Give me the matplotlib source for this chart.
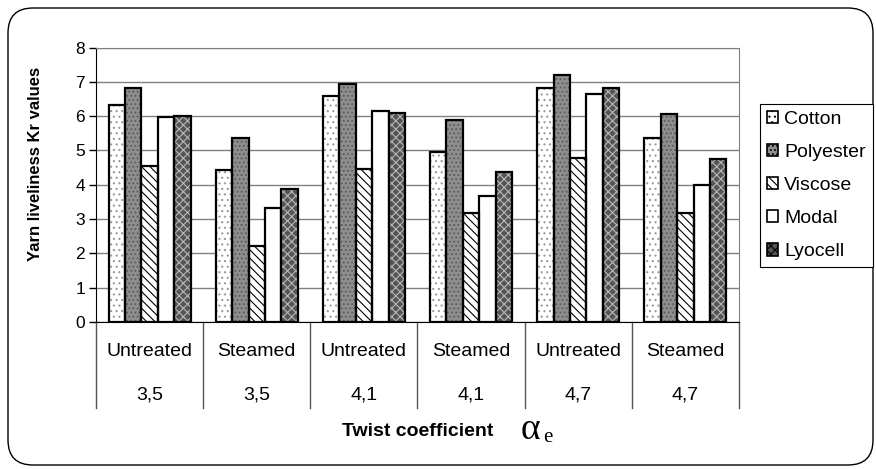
import matplotlib.pyplot as plt
import matplotlib.patches as mpatches
import matplotlib.transforms as mtransforms
import numpy as np

plt.rcParams['font.family'] = ['Liberation Sans', 'DejaVu Sans']
plt.rcParams['hatch.linewidth'] = 0.8

treatments = ['Untreated', 'Steamed', 'Untreated', 'Steamed', 'Untreated', 'Steamed']
twist = ['3,5', '3,5', '4,1', '4,1', '4,7', '4,7']

series = ['Cotton', 'Polyester', 'Viscose', 'Modal', 'Lyocell']
cotton = [6.32, 4.43, 6.59, 4.94, 6.82, 5.37]
polyester = [6.82, 5.36, 6.95, 5.88, 7.21, 6.07]
viscose = [4.55, 2.22, 4.45, 3.19, 4.79, 3.17]
modal = [5.96, 3.33, 6.14, 3.67, 6.65, 3.99]
lyocell = [6.01, 3.89, 6.09, 4.37, 6.82, 4.75]
values = [cotton, polyester, viscose, modal, lyocell]

# fill, hatch, hatch colour for each series
styles = [
    ('white', '...', '#9a9a9a'),
    ('#8e8e8e', '....', '#5a5a5a'),
    ('white', '\\\\\\\\', 'black'),
    ('white', '', 'black'),
    ('#555555', 'xxxx', '#b8b8b8'),
]

fig = plt.figure(figsize=(8.76, 4.69), dpi=100)
ax = fig.add_axes([96/876, (469-322)/469, 643/876, 274.5/469])

x = np.arange(len(treatments))
w = 0.153
for i, (vals, (fc, hatch, hc)) in enumerate(zip(values, styles)):
    pos = x + (i - 2) * w
    ax.bar(pos, vals, w, color=fc, hatch=hatch, edgecolor=hc, linewidth=0, zorder=3)
    ax.bar(pos, vals, w, color='none', edgecolor='black', linewidth=1.6, zorder=4)

ax.set_xlim(-0.5, 5.5)
ax.set_ylim(0, 8)
ax.set_yticks(range(9))
ax.yaxis.grid(True, color='#808080', linewidth=1, zorder=0)
ax.tick_params(axis='y', labelsize=12.5, length=5, width=1, direction='out', pad=3)
ax.set_xticks([])
ax.spines['left'].set_color('black')
ax.spines['bottom'].set_color('black')
ax.spines['top'].set_color('#808080')
ax.spines['right'].set_color('#808080')
ax.set_ylabel('Yarn liveliness Kr values', fontsize=12, fontweight='bold')
ax.yaxis.set_label_coords(-53/643, 158/274.5)

# category table under the axis
trans = mtransforms.blended_transform_factory(ax.transData, ax.transAxes)
for b in np.arange(-0.5, 6, 1):
    ax.plot([b, b], [0, -86/274.5], color='#555555', linewidth=1, transform=trans, clip_on=False)
for xi, t, k in zip(x, treatments, twist):
    ax.text(xi, -30/274.5, t, ha='center', va='center', fontsize=14, transform=trans)
    ax.text(xi, -73/274.5, k, ha='center', va='center', fontsize=14, transform=trans)

fig.text(418/876, 1 - 431/469, 'Twist coefficient', ha='center', va='center',
         fontsize=14, fontweight='bold')
fig.text(521/876, 1 - 430/469, 'α', ha='left', va='center', fontsize=27,
         family='Liberation Serif')
fig.text(543/876, 1 - 437/469, 'e', ha='left', va='center', fontsize=15,
         family='Liberation Serif')

handles = [mpatches.Patch(facecolor=fc, hatch=h, edgecolor='black', linewidth=1.2)
           for fc, h, hc in styles]
leg = fig.legend(handles, series, loc='lower left',
                 bbox_to_anchor=(760/876, (469-267)/469), fontsize=14,
                 handlelength=0.6, handleheight=0.6, handletextpad=0.3,
                 labelspacing=0.83, borderpad=0.35, borderaxespad=0,
                 fancybox=False, framealpha=1)
leg.get_frame().set_edgecolor('black')
leg.get_frame().set_linewidth(0.8)

border = mpatches.FancyBboxPatch((8, 4), 865, 457,
                                 boxstyle='round,pad=0,rounding_size=25',
                                 facecolor='none', edgecolor='black', linewidth=1,
                                 transform=mtransforms.IdentityTransform())
fig.add_artist(border)

fig.savefig('out.png', dpi=100)
